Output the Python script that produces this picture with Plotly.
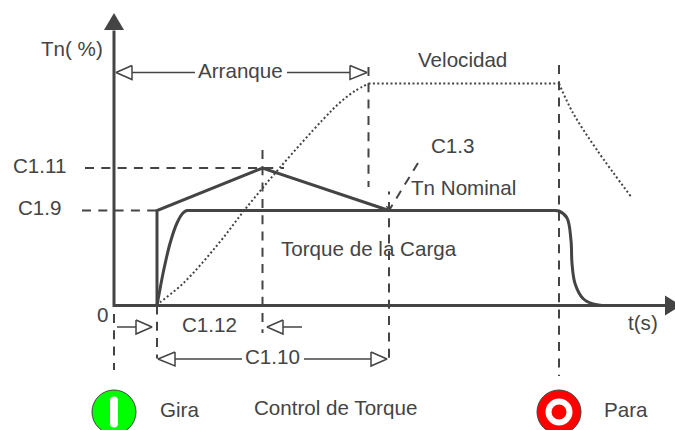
"""Diagrama de arranque: torque y velocidad contra tiempo (esquema, unidades arbitrarias)."""

import plotly.graph_objects as go

INK = "#444444"
FONT = "Liberation Sans"

# Curves, t and Tn measured from the origin of the diagram
boost_t = [43, 43, 148.5, 275]
boost_tn = [0, 95, 137.5, 95]

load_rise_t = [43, 49, 56, 63, 69, 73, 76]
load_rise_tn = [0, 32, 62, 82.5, 92.5, 95, 95]
load_flat_t = [76, 439]
load_flat_tn = [95, 95]
load_fall_t = [439, 445, 453, 457, 458, 461, 469, 479, 488]
load_fall_tn = [95, 94.5, 87.5, 65, 42, 22, 7, 1.5, 0]

speed_rise_t = [43, 46, 69, 103, 133, 166, 209, 226, 241, 254.5]
speed_rise_tn = [0, 3, 22, 60, 98.5, 138, 186, 203, 214.5, 222]
speed_flat_t = [254.5, 445]
speed_flat_tn = [222, 222]
speed_fall_t = [445, 459, 483, 518]
speed_fall_tn = [222, 192.5, 155.5, 107.5]

# Dashed guides: (t0, tn0, t1, tn1)
guide_t0 = [0, 43, 148.5, 275, 275, 254.5, 445, -29, -32, 304]
guide_tn0 = [-8.5, 0, 155.5, 114, 103.5, 238.5, 240.5, 137.5, 95, 142.5]
guide_t1 = [0, 43, 148.5, 275, 275, 254.5, 445, 170, 43, 275]
guide_tn1 = [-64.5, -53, -27.5, 111, -59.5, 118.5, -70.5, 137.5, 95, 95]

# Barb at the lower end of the C1.3 pointer
barb_t = [272.5, 275]
barb_tn = [99.5, 95]

# Dimension arrows
shaft_t0 = [18, 173, 3, 169, 61, 190]
shaft_t1 = [81, 236, 22, 188, 128, 257]
shaft_tn = [233, 233, -21.5, -21.5, -53.5, -53.5]
head_tip = [2, 253, 38, 153, 44, 273]
head_base = [18, 236, 22, 169, 61, 257]
head_half = 7

# Axes
axis_t = [0, 0, 551]
axis_tn = [275, 0, 0]

# Labels
label_text = ["Tn( %)", "Arranque", "Velocidad", "C1.3", "Tn Nominal", "C1.11", "C1.9",
              "Torque de la Carga", "0", "C1.12", "C1.10", "t(s)", "Gira",
              "Control de Torque", "Para"]
label_t = [-73, 84, 304, 317, 297, -101, -96, 167, -17, 68, 131, 514, 46, 140, 490]
label_tn = [254.5, 233, 243.5, 157.5, 115.5, 137.5, 95.5, 54.5, -11.5, -21.5, -53.5, -19.5, -106.5, -104.5, -106.5]

fig = go.Figure()


def add_line(x, y, width, dash="solid", shape="linear", smoothing=0.6, color=INK):
    fig.add_trace(go.Scatter(x=x, y=y, mode="lines", hoverinfo="skip",
                             line=dict(color=color, width=width, dash=dash, shape=shape, smoothing=smoothing)))


def add_polygon(x, y, fill, width=0.0):
    fig.add_trace(go.Scatter(x=x, y=y, mode="lines", fill="toself", fillcolor=fill, hoverinfo="skip",
                             line=dict(color=INK, width=width)))


for t0, tn0, t1, tn1 in zip(guide_t0, guide_tn0, guide_t1, guide_tn1):
    add_line([t0, t1], [tn0, tn1], 2, dash="9px,7.3px")
add_line(barb_t, barb_tn, 1.5)

add_line(speed_rise_t, speed_rise_tn, 2, dash="2px,2.4px", shape="spline", smoothing=1)
add_line(speed_flat_t, speed_flat_tn, 2, dash="2px,2.4px")
add_line(speed_fall_t, speed_fall_tn, 2, dash="2px,2.4px", shape="spline", smoothing=1)
add_line(axis_t, axis_tn, 3)
add_polygon([-10, 0, 10, -10], [275.5, 292.5, 275.5, 275.5], INK)
add_polygon([551, 567, 551, 551], [10, 0, -10, 10], INK)
add_line(boost_t, boost_tn, 3)
add_line(load_rise_t, load_rise_tn, 3, shape="spline")
add_line(load_flat_t, load_flat_tn, 3)
add_line(load_fall_t, load_fall_tn, 3, shape="spline", smoothing=1)

for t0, t1, tn in zip(shaft_t0, shaft_t1, shaft_tn):
    add_line([t0, t1], [tn, tn], 1.5)
for tip, base, tn in zip(head_tip, head_base, shaft_tn):
    add_polygon([base, tip, base, base], [tn + head_half, tn, tn - head_half, tn + head_half], "white", 1.5)

# Run / stop buttons
fig.add_trace(go.Scatter(x=[0, 445], y=[-106.5, -106.5], mode="markers", hoverinfo="skip",
                         marker=dict(size=44, color=["#00ff00", "#ff0000"], line=dict(color=INK, width=1))))
fig.add_trace(go.Scatter(x=[0, 0], y=[-95, -118], mode="lines+markers", hoverinfo="skip",
                         line=dict(color="white", width=8), marker=dict(size=8, color="white")))
fig.add_trace(go.Scatter(x=[445], y=[-106.5], mode="markers", hoverinfo="skip",
                         marker=dict(size=21, color="#ff0000", line=dict(color="white", width=6))))

fig.add_trace(go.Scatter(x=label_t, y=label_tn, text=label_text, mode="text", hoverinfo="skip",
                         textposition="middle right",
                         textfont=dict(family=FONT, size=20.6, color=INK)))

fig.update_layout(
    width=675,
    height=430,
    margin=dict(l=0, r=0, t=0, b=0),
    paper_bgcolor="white",
    plot_bgcolor="white",
    showlegend=False,
    xaxis=dict(range=[-114, 561], visible=False),
    yaxis=dict(range=[-124.5, 305.5], visible=False),
)

fig.write_html("out.html", config=dict(displayModeBar=False),
               post_script="document.body.style.margin='0';")
